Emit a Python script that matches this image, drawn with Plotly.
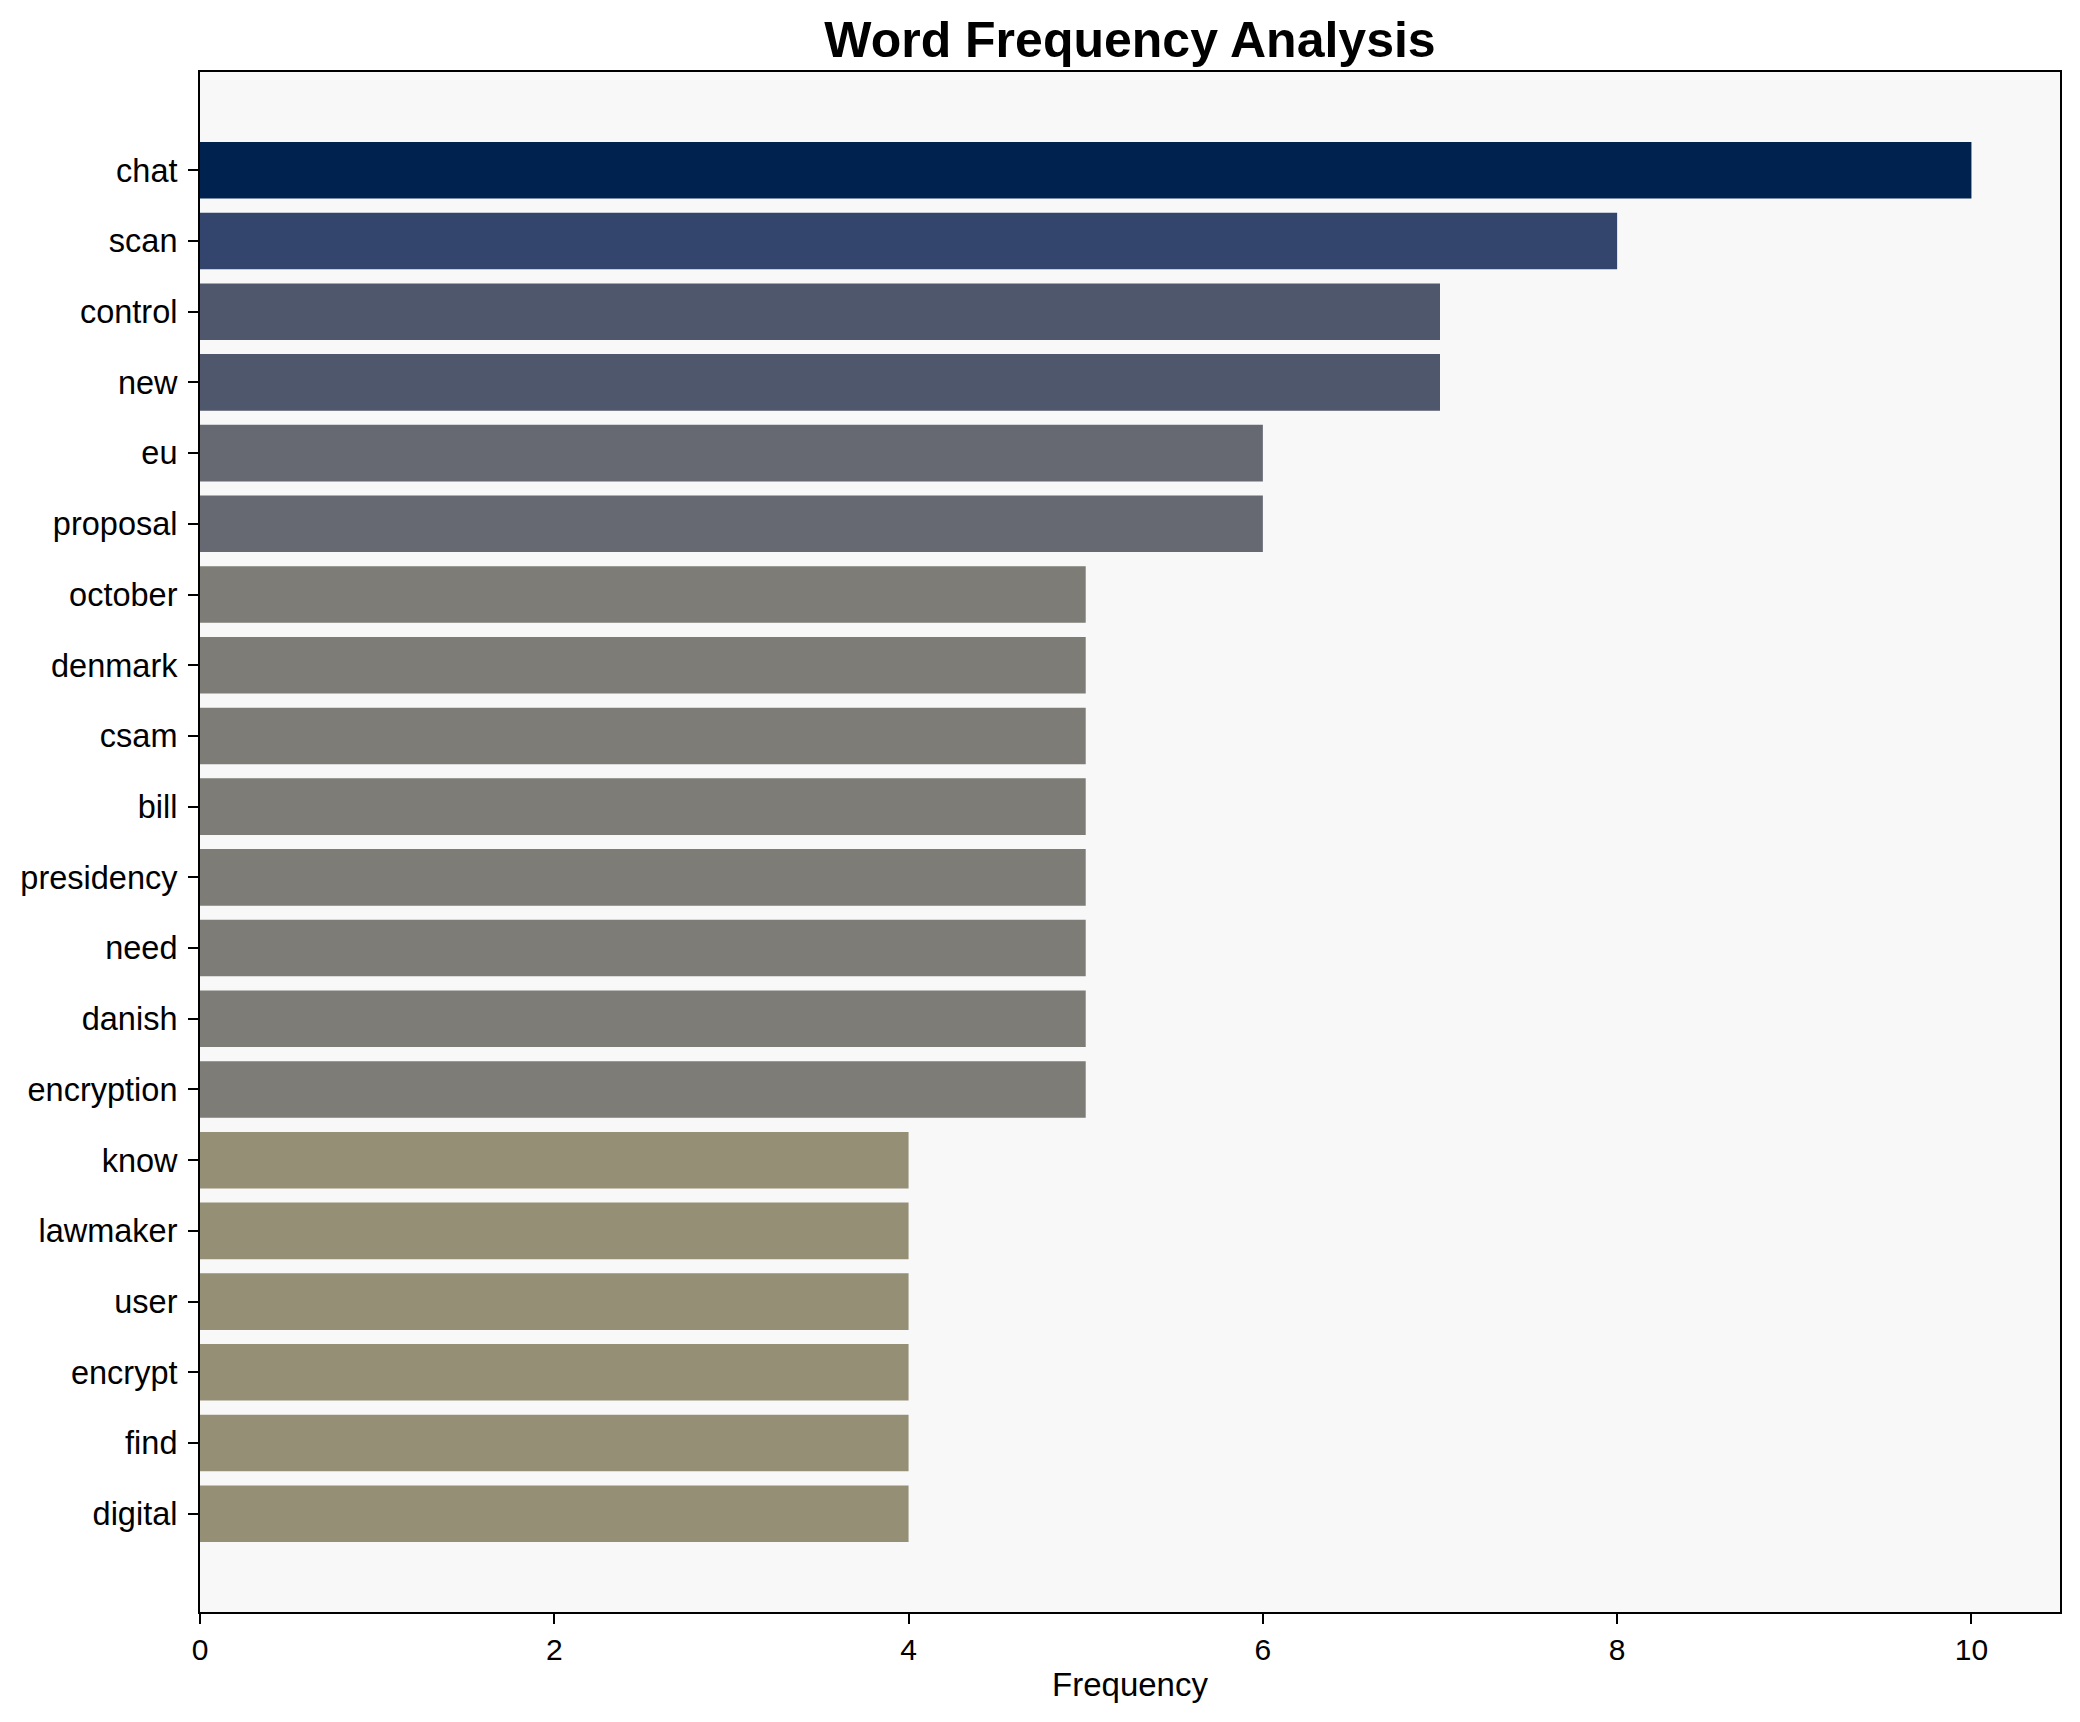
import plotly.graph_objects as go

words = ["chat", "scan", "control", "new", "eu", "proposal", "october", "denmark",
         "csam", "bill", "presidency", "need", "danish", "encryption", "know",
         "lawmaker", "user", "encrypt", "find", "digital"]
freqs = [10, 8, 7, 7, 6, 6, 5, 5, 5, 5, 5, 5, 5, 5, 4, 4, 4, 4, 4, 4]
x_ticks = [0, 2, 4, 6, 8, 10]

W, H = 2080, 1722
FONT = "Liberation Sans, Arial, sans-serif"

fig = go.Figure(go.Bar(
    x=freqs,
    y=words,
    orientation="h",
    width=0.8,
    marker=dict(
        color=freqs,
        colorscale="Cividis",
        reversescale=True,
        cmin=0,
        cmax=max(freqs),
        line=dict(width=0),
    ),
    hoverinfo="x+y",
))

n = len(words)
fig.update_layout(
    width=W,
    height=H,
    paper_bgcolor="white",
    plot_bgcolor="#f8f8f8",
    margin=dict(l=192, r=28, t=64, b=118, pad=0, autoexpand=False),
    font=dict(family=FONT, size=32, color="black"),
    showlegend=False,
    title=dict(
        text="<b>Word Frequency Analysis</b>",
        font=dict(family=FONT, size=50, color="black"),
        x=0.5, xanchor="center", xref="paper",
        y=1 - 31 / H, yanchor="middle", yref="container",
    ),
    bargap=0.2,
)

fig.update_xaxes(
    automargin=False,
    range=[0, 10.5],
    tickvals=x_ticks,
    ticktext=[str(t) for t in x_ticks],
    ticks="outside",
    ticklen=10,
    tickwidth=2,
    tickcolor="black",
    tickfont=dict(family=FONT, size=30, color="black"),
    showgrid=False,
    zeroline=False,
    showline=True,
    linecolor="black",
    linewidth=2,
    mirror=True,
    title=dict(text="Frequency", font=dict(family=FONT, size=33, color="black"), standoff=8),
)

fig.update_yaxes(
    automargin=False,
    type="category",
    categoryorder="array",
    categoryarray=words,
    range=[n - 1 + 0.4 + 0.99, -0.4 - 0.99],
    ticks="outside",
    ticklen=10,
    tickwidth=2,
    tickcolor="black",
    tickfont=dict(family=FONT, size=32.5, color="black"),
    ticklabelstandoff=4,
    showgrid=False,
    zeroline=False,
    showline=True,
    linecolor="black",
    linewidth=2,
    mirror=True,
)

fig.write_html("out.html")
